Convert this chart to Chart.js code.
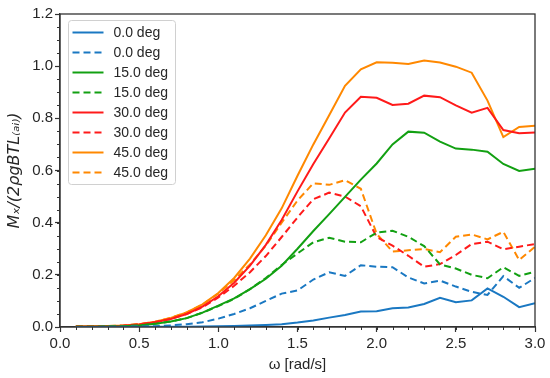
<!DOCTYPE html>
<html>
<head>
<meta charset="utf-8">
<script src="https://cdn.jsdelivr.net/npm/chart.js@4.4.1/dist/chart.umd.min.js"></script>
<style>
  html, body { margin: 0; padding: 0; background: #fff; }
  #wrap { width: 550px; height: 378px; }
</style>
</head>
<body>
<div id="wrap"><canvas id="c" width="550" height="378"></canvas></div>
<script>
// omega [rad/s]
const omega = [0.1, 0.2, 0.3, 0.4, 0.5, 0.6, 0.7, 0.8, 0.9, 1.0,
               1.1, 1.2, 1.3, 1.4, 1.5, 1.6, 1.7, 1.8, 1.9, 2.0,
               2.1, 2.2, 2.3, 2.4, 2.5, 2.6, 2.7, 2.8, 2.9, 3.0];

const deg0Solid  = [0.000, 0.000, 0.000, 0.000, 0.000, 0.001, 0.001, 0.001, 0.002, 0.003,
                    0.004, 0.006, 0.008, 0.011, 0.017, 0.025, 0.036, 0.046, 0.059, 0.060,
                    0.072, 0.075, 0.088, 0.112, 0.095, 0.102, 0.148, 0.116, 0.076, 0.091];
const deg0Dash   = [0.000, 0.000, 0.001, 0.001, 0.002, 0.003, 0.006, 0.011, 0.018, 0.032,
                    0.050, 0.072, 0.100, 0.128, 0.140, 0.182, 0.210, 0.196, 0.237, 0.231,
                    0.229, 0.190, 0.167, 0.178, 0.155, 0.135, 0.123, 0.195, 0.150, 0.188];
const deg15Solid = [0.001, 0.001, 0.002, 0.003, 0.006, 0.012, 0.021, 0.034, 0.055, 0.082,
                    0.110, 0.145, 0.185, 0.235, 0.300, 0.368, 0.433, 0.499, 0.565, 0.627,
                    0.700, 0.749, 0.745, 0.711, 0.684, 0.680, 0.672, 0.625, 0.598, 0.607];
const deg15Dash  = [0.001, 0.001, 0.002, 0.003, 0.006, 0.012, 0.021, 0.034, 0.055, 0.080,
                    0.108, 0.145, 0.188, 0.238, 0.282, 0.325, 0.342, 0.327, 0.325, 0.362,
                    0.369, 0.346, 0.310, 0.240, 0.224, 0.200, 0.187, 0.229, 0.196, 0.212];
const deg30Solid = [0.002, 0.002, 0.003, 0.005, 0.010, 0.018, 0.031, 0.050, 0.078, 0.118,
                    0.170, 0.235, 0.315, 0.410, 0.520, 0.625, 0.723, 0.822, 0.883, 0.879,
                    0.851, 0.856, 0.887, 0.881, 0.850, 0.822, 0.840, 0.755, 0.743, 0.746];
const deg30Dash  = [0.002, 0.002, 0.003, 0.005, 0.010, 0.018, 0.031, 0.050, 0.076, 0.113,
                    0.158, 0.210, 0.272, 0.345, 0.420, 0.490, 0.515, 0.500, 0.463, 0.345,
                    0.312, 0.273, 0.231, 0.241, 0.276, 0.318, 0.327, 0.298, 0.308, 0.318];
const deg45Solid = [0.002, 0.003, 0.004, 0.006, 0.011, 0.020, 0.035, 0.056, 0.087, 0.130,
                    0.188, 0.262, 0.352, 0.455, 0.580, 0.700, 0.812, 0.925, 0.988, 1.015,
                    1.013, 1.008, 1.022, 1.014, 0.998, 0.975, 0.868, 0.728, 0.767, 0.772];
const deg45Dash  = [0.002, 0.003, 0.004, 0.006, 0.011, 0.020, 0.035, 0.056, 0.086, 0.128,
                    0.180, 0.240, 0.312, 0.400, 0.485, 0.551, 0.545, 0.563, 0.530, 0.357,
                    0.289, 0.294, 0.299, 0.287, 0.346, 0.355, 0.336, 0.365, 0.257, 0.308];

const seriesLabels = ['0.0 deg', '0.0 deg', '15.0 deg', '15.0 deg', '30.0 deg', '30.0 deg', '45.0 deg', '45.0 deg'];
const seriesValues = [deg0Solid, deg0Dash, deg15Solid, deg15Dash, deg30Solid, deg30Dash, deg45Solid, deg45Dash];
const seriesColors = ['#1a78c2', '#1a78c2', '#12a012', '#12a012', '#ff1a1a', '#ff1a1a', '#ff8800', '#ff8800'];
const xTicks = [0.0, 0.5, 1.0, 1.5, 2.0, 2.5, 3.0];
const yTicks = [0.0, 0.2, 0.4, 0.6, 0.8, 1.0, 1.2];

const AXIS = '#333333';
const TEXT = '#262626';
const DASH = [7, 4];

const datasets = seriesValues.map((vals, i) => ({
  label: seriesLabels[i],
  data: omega.map((w, j) => ({ x: w, y: vals[j] })),
  borderColor: seriesColors[i],
  backgroundColor: seriesColors[i],
  borderWidth: 2,
  borderDash: i % 2 ? DASH : [],
  pointRadius: 0,
  tension: 0,
  fill: false,
}));

// minor ticks + top/right frame
const frame = {
  id: 'frame',
  afterDraw(chart) {
    const { ctx, chartArea: a, scales } = chart;
    ctx.save();
    ctx.strokeStyle = AXIS;
    ctx.lineWidth = 1;
    for (let v = 0; v <= 3.0001; v += 0.1) {
      const px = Math.round(scales.x.getPixelForValue(v)) + 0.5;
      ctx.beginPath(); ctx.moveTo(px, a.bottom); ctx.lineTo(px, a.bottom + 3); ctx.stroke();
    }
    for (let v = 0; v <= 1.2001; v += 0.05) {
      const py = Math.round(scales.y.getPixelForValue(v)) + 0.5;
      ctx.beginPath(); ctx.moveTo(a.left, py); ctx.lineTo(a.left - 3, py); ctx.stroke();
    }
    ctx.lineWidth = 1.3;
    ctx.strokeRect(a.left, a.top, a.right - a.left, a.bottom - a.top);
    ctx.restore();
  }
};

// legend box inside the axes, like matplotlib's upper left
const boxLegend = {
  id: 'boxLegend',
  afterDatasetsDraw(chart) {
    const { ctx, chartArea: a } = chart;
    const x0 = a.left + 8.5, y0 = a.top + 6.5, w = 107, h = 164, r = 3;
    ctx.save();
    ctx.fillStyle = 'rgba(255,255,255,0.85)';
    ctx.strokeStyle = '#d0d0d0';
    ctx.lineWidth = 1;
    ctx.beginPath();
    ctx.roundRect(x0, y0, w, h, r);
    ctx.fill(); ctx.stroke();
    ctx.font = '14px "Liberation Sans", Arial, sans-serif';
    ctx.textBaseline = 'middle';
    chart.data.datasets.forEach((ds, i) => {
      const y = y0 + 12 + i * 20;
      ctx.strokeStyle = ds.borderColor;
      ctx.lineWidth = ds.borderWidth;
      ctx.setLineDash(ds.borderDash);
      ctx.beginPath(); ctx.moveTo(x0 + 4, y); ctx.lineTo(x0 + 35, y); ctx.stroke();
      ctx.setLineDash([]);
      ctx.fillStyle = TEXT;
      ctx.fillText(ds.label, x0 + 45, y + 1);
    });
    ctx.restore();
  }
};

new Chart(document.getElementById('c'), {
  type: 'line',
  data: { datasets },
  options: {
    responsive: false,
    animation: false,
    devicePixelRatio: 1,
    layout: { padding: { top: 14, right: 15, left: 0, bottom: 0 } },
    plugins: {
      legend: { display: false },
      tooltip: { enabled: false },
    },
    scales: {
      x: {
        type: 'linear',
        min: 0, max: 3,
        afterFit: (s) => { s.height = 51; },
        afterBuildTicks: (s) => { s.ticks = xTicks.map(v => ({ value: v })); },
        ticks: {
          color: TEXT,
          padding: 3,
          maxRotation: 0,
          font: { family: '"Liberation Sans", Arial, sans-serif', size: 15 },
          callback: (v) => Number(v).toFixed(1),
        },
        grid: { drawOnChartArea: false, drawTicks: true, tickLength: 5, tickColor: AXIS, tickWidth: 1.2 },
        border: { display: true, color: AXIS, width: 1.3 },
        title: {
          display: true,
          text: 'ω [rad/s]',
          color: TEXT,
          padding: { top: 0, bottom: 4 },
          font: { family: '"Liberation Sans", Arial, sans-serif', size: 15 },
        },
      },
      y: {
        min: 0, max: 1.2,
        afterFit: (s) => { s.width = 60; },
        afterBuildTicks: (s) => { s.ticks = yTicks.map(v => ({ value: v })); },
        ticks: {
          color: TEXT,
          padding: 2,
          font: { family: '"Liberation Sans", Arial, sans-serif', size: 15 },
          callback: (v) => Number(v).toFixed(1),
        },
        grid: { drawOnChartArea: false, drawTicks: true, tickLength: 5, tickColor: AXIS, tickWidth: 1.2 },
        border: { display: true, color: AXIS, width: 1.3 },
        title: {
          display: true,
          text: 'Mₓ/(2ρgBTL₍ₐᵢ₎)',
          color: TEXT,
          padding: { top: 5, bottom: 0 },
          font: { family: '"DejaVu Sans", sans-serif', size: 16, style: 'italic' },
        },
      },
    },
  },
  plugins: [frame, boxLegend],
});
</script>
</body>
</html>
